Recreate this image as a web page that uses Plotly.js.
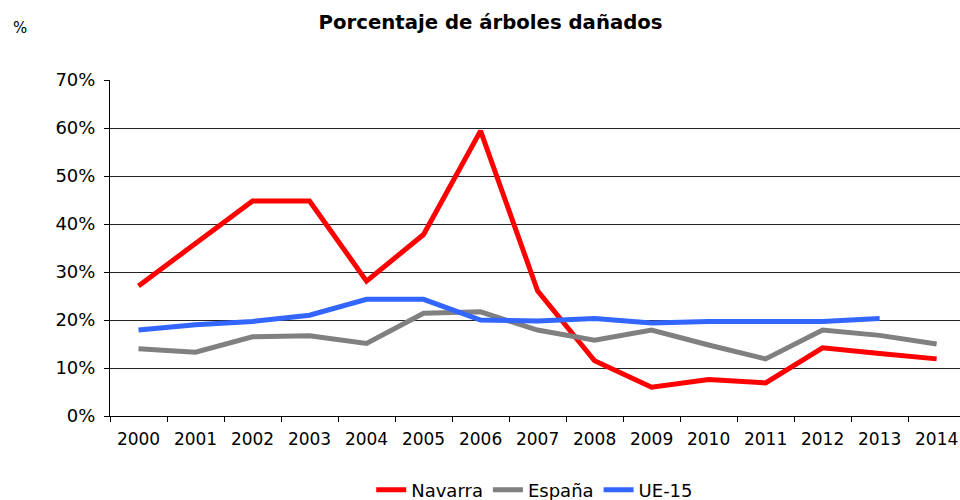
<!DOCTYPE html>
<html>
<head>
<meta charset="utf-8">
<script src="https://cdn.plot.ly/plotly-3.0.1.min.js"></script>
<style>html,body{margin:0;padding:0;background:#fff;overflow:hidden}#chart{width:960px;height:500px}</style>
</head>
<body>
<div id="chart"></div>
<script>
const years = ['2000','2001','2002','2003','2004','2005','2006','2007','2008','2009','2010','2011','2012','2013','2014'];
const navarra = [27.1, 36.0, 44.8, 44.8, 28.1, 37.8, 59.4, 26.1, 11.5, 6.0, 7.6, 6.9, 14.2, 13.0, 11.9];
const espana  = [14.0, 13.3, 16.5, 16.7, 15.1, 21.4, 21.7, 17.9, 15.8, 17.9, 14.8, 11.9, 17.9, 16.8, 15.0];
const ue15    = [17.9, 19.0, 19.7, 21.0, 24.3, 24.3, 20.0, 19.8, 20.3, 19.4, 19.7, 19.7, 19.7, 20.3, null];
const yTicks  = [0, 10, 20, 30, 40, 50, 60, 70];

const font = 'DejaVu Sans, Verdana, sans-serif';
const traces = [
  {name: 'Navarra', x: years, y: navarra, color: '#FF0000'},
  {name: 'España', x: years, y: espana, color: '#808080'},
  {name: 'UE-15', x: years, y: ue15, color: '#3366FF'}
].map(s => ({
  type: 'scatter', mode: 'lines', name: s.name, x: s.x, y: s.y,
  line: {color: s.color, width: 5}, connectgaps: false, hoverinfo: 'skip'
}));

const layout = {
  width: 960, height: 500,
  margin: {l: 110, r: 0, t: 80, b: 84},
  paper_bgcolor: '#fff', plot_bgcolor: '#fff',
  font: {family: font, size: 17, color: '#000'},
  title: {text: '<b>Porcentaje de árboles dañados</b>', font: {family: font, size: 19.7, color: '#000'},
          x: 0.511, xanchor: 'center', xref: 'container', y: 0.955, yanchor: 'middle', yref: 'container'},
  xaxis: {
    type: 'category', range: [-0.5, 14.41], automargin: false,
    showline: true, linecolor: '#000', linewidth: 1,
    ticks: 'outside', tickson: 'boundaries', ticklen: 5, tickcolor: '#000',
    ticklabelstandoff: 8,
    showgrid: false, zeroline: false,
    tickfont: {family: font, size: 17, color: '#000'}
  },
  yaxis: {
    range: [0, 70], tickvals: yTicks, ticktext: yTicks.map(v => v + '%'), automargin: false,
    showline: true, linecolor: '#000', linewidth: 1,
    ticks: 'outside', ticklen: 5, tickcolor: '#000',
    ticklabelstandoff: 5,
    showgrid: true, gridcolor: '#222', gridwidth: 1, zeroline: false,
    tickfont: {family: font, size: 18, color: '#000'}
  },
  showlegend: true,
  legend: {orientation: 'h', x: 0.557, xanchor: 'center', xref: 'container', y: 0.02, yanchor: 'middle', yref: 'container',
           font: {family: font, size: 18, color: '#000'}, itemwidth: 30, tracegroupgap: 0,
           bgcolor: 'rgba(0,0,0,0)'},
  annotations: [
    {text: '%', xref: 'paper', yref: 'paper', x: -0.117, y: 1.155, xanchor: 'left', yanchor: 'middle',
     showarrow: false, font: {family: font, size: 15, color: '#000'}}
  ]
};

Plotly.newPlot('chart', traces, layout, {staticPlot: true, displayModeBar: false});
</script>
</body>
</html>
